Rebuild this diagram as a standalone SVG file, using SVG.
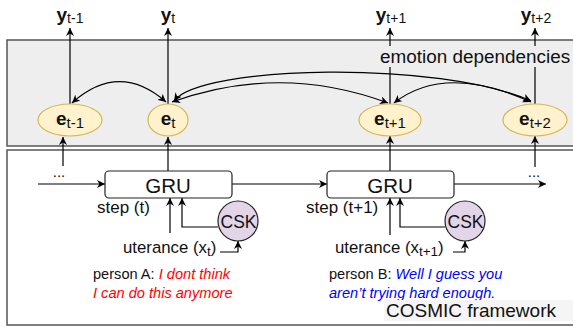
<svg xmlns="http://www.w3.org/2000/svg" width="573" height="326" viewBox="0 0 573 326">
<style>
text{font-family:"Liberation Sans",Arial,sans-serif;fill:#111}
.panel{stroke:#555;stroke-width:1.5}
.em{fill:#fff2cc;stroke:#d6b656;stroke-width:1.2}
.gru{fill:#fff;stroke:#222;stroke-width:1.2}
.csk{fill:#e1d5e7;stroke:#222;stroke-width:1.2}
.c{fill:none;stroke:#000;stroke-width:1.2}
.bold{font-weight:bold}
.sub{font-weight:normal}
.small{font-size:14.6px}
</style>
<defs>
<marker id="ar" viewBox="0 0 10 10" refX="10" refY="5" markerWidth="8" markerHeight="8" markerUnits="userSpaceOnUse" orient="auto-start-reverse">
<path d="M0,0 L10,5 L0,10 L3,5 z" fill="#000"/>
</marker>
</defs>
<g id="panel-top"><rect class="panel" x="7" y="40" width="580" height="106" fill="#eeeeee"/></g>
<g id="panel-bottom"><rect class="panel" x="7" y="150" width="580" height="175" fill="#ffffff"/></g>
<g id="connectors">
<line class="c" x1="70" y1="104" x2="70" y2="28" marker-end="url(#ar)"/>
<line class="c" x1="168" y1="104" x2="168" y2="28" marker-end="url(#ar)"/>
<line class="c" x1="390" y1="104" x2="390" y2="28" marker-end="url(#ar)"/>
<line class="c" x1="535" y1="104" x2="535" y2="28" marker-end="url(#ar)"/>
<path class="c" d="M72,103 Q119,61 166,102" marker-start="url(#ar)" marker-end="url(#ar)"/>
<path class="c" d="M172,102 Q280,63 388,103" marker-start="url(#ar)" marker-end="url(#ar)"/>
<path class="c" d="M174,101 C200,65 440,60 531,101" marker-start="url(#ar)" marker-end="url(#ar)"/>
<path class="c" d="M394,103 Q445,63 531,102" marker-start="url(#ar)" marker-end="url(#ar)"/>
<line class="c" x1="63" y1="166" x2="63" y2="137" marker-end="url(#ar)"/>
<line class="c" x1="168" y1="171" x2="168" y2="137" marker-end="url(#ar)"/>
<line class="c" x1="390" y1="171" x2="390" y2="136" marker-end="url(#ar)"/>
<line class="c" x1="535" y1="167" x2="535" y2="136" marker-end="url(#ar)"/>
<line class="c" x1="38" y1="184" x2="105" y2="184" marker-end="url(#ar)"/>
<line class="c" x1="232" y1="184" x2="327" y2="184" marker-end="url(#ar)"/>
<line class="c" x1="454" y1="184" x2="546" y2="184" marker-end="url(#ar)"/>
<line class="c" x1="170" y1="233" x2="170" y2="198" marker-end="url(#ar)"/>
<path class="c" d="M218,227 H182 V198" marker-end="url(#ar)"/>
<path class="c" d="M220,252 H238 V241" marker-end="url(#ar)"/>
<line class="c" x1="390" y1="235" x2="390" y2="198" marker-end="url(#ar)"/>
<path class="c" d="M445,227 H400 V198" marker-end="url(#ar)"/>
<path class="c" d="M453,252 H465 V241" marker-end="url(#ar)"/>
</g>
<g id="label-emotion-dependencies">
<rect x="378" y="46" width="194" height="21" fill="#eeeeee"/>
<text x="380" y="63" font-size="18.9">emotion dependencies</text>
</g>
<g id="y-tm1"><text x="70" y="21" text-anchor="middle" font-size="19" class="bold">y<tspan class="sub" font-size="14" dy="2">t-1</tspan></text></g>
<g id="y-t"><text x="168" y="21" text-anchor="middle" font-size="19" class="bold">y<tspan class="sub" font-size="14" dy="2">t</tspan></text></g>
<g id="y-tp1"><text x="391" y="21" text-anchor="middle" font-size="19" class="bold">y<tspan class="sub" font-size="14" dy="2">t+1</tspan></text></g>
<g id="y-tp2"><text x="536" y="21" text-anchor="middle" font-size="19" class="bold">y<tspan class="sub" font-size="14" dy="2">t+2</tspan></text></g>
<g id="e-tm1"><ellipse class="em" cx="70" cy="120" rx="32" ry="16"/><text x="70" y="125" text-anchor="middle" font-size="19" class="bold">e<tspan class="sub" font-size="15" dy="3">t-1</tspan></text></g>
<g id="e-t"><ellipse class="em" cx="168" cy="120" rx="20" ry="16"/><text x="168" y="125" text-anchor="middle" font-size="19" class="bold">e<tspan class="sub" font-size="15" dy="3">t</tspan></text></g>
<g id="e-tp1"><ellipse class="em" cx="390" cy="120" rx="31" ry="16"/><text x="390" y="125" text-anchor="middle" font-size="19" class="bold">e<tspan class="sub" font-size="15" dy="3">t+1</tspan></text></g>
<g id="e-tp2"><ellipse class="em" cx="535" cy="120" rx="32" ry="16"/><text x="535" y="125" text-anchor="middle" font-size="19" class="bold">e<tspan class="sub" font-size="15" dy="3">t+2</tspan></text></g>
<g id="dots-left"><text x="59" y="177" text-anchor="middle" font-size="15">...</text></g>
<g id="dots-right"><text x="534" y="177" text-anchor="middle" font-size="15">...</text></g>
<g id="gru-1"><rect class="gru" x="105" y="171" width="127" height="27" rx="4"/><text x="168" y="192.5" text-anchor="middle" font-size="20.5">GRU</text></g>
<g id="gru-2"><rect class="gru" x="327" y="171" width="127" height="27" rx="4"/><text x="390" y="192.5" text-anchor="middle" font-size="20.5">GRU</text></g>
<g id="step-1"><text x="97" y="213" font-size="17">step (t)</text></g>
<g id="step-2"><text x="306" y="213" font-size="17">step (t+1)</text></g>
<g id="csk-1"><circle class="csk" cx="238" cy="221" r="20"/><text x="238.5" y="227.5" text-anchor="middle" font-size="17.5">CSK</text></g>
<g id="csk-2"><circle class="csk" cx="465" cy="221" r="20"/><text x="465.5" y="227.5" text-anchor="middle" font-size="17.5">CSK</text></g>
<g id="utt-1"><text x="123" y="253" font-size="16.8">uterance (x<tspan font-size="13.5" dy="3">t</tspan><tspan dy="-3">)</tspan></text></g>
<g id="utt-2"><text x="335" y="253" font-size="16.8">uterance (x<tspan font-size="13.5" dy="3">t+1</tspan><tspan dy="-3">)</tspan></text></g>
<g id="person-a"><text x="93" y="279" class="small">person A: <tspan fill="#ff0000" font-style="italic">I dont think</tspan></text><text x="93" y="298" class="small" font-style="italic" style="fill:#ff0000">I can do this anymore</text></g>
<g id="person-b"><text x="329" y="279" class="small">person B: <tspan fill="#0000ff" font-style="italic">Well I guess you</tspan></text><text x="329" y="298" class="small" font-style="italic" style="fill:#0000ff">aren’t trying hard enough.</text></g>
<g id="title"><rect x="384" y="300" width="190" height="21" fill="#f5f5f5"/><text x="386" y="317" font-size="19">COSMIC framework</text></g>
</svg>
